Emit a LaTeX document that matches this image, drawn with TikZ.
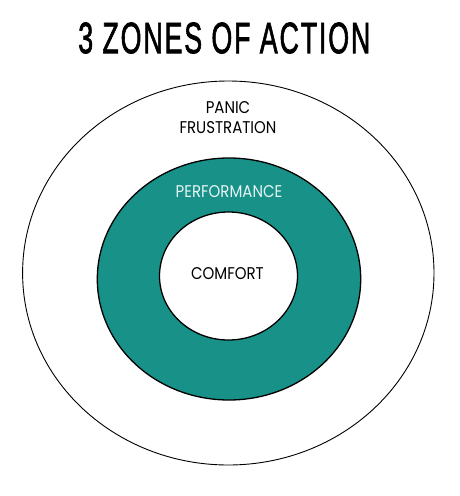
\documentclass[tikz,border=0pt]{standalone}
\usepackage{fontspec}
\setmainfont{Poppins}
\newfontfamily\zonefont[FakeStretch=0.88]{Poppins}
\newfontfamily\titlefont[LetterSpace=7,FakeBold=2]{Liberation Sans}
\usepackage{tikz}
\usetikzlibrary{positioning}
\definecolor{perfteal}{RGB}{24,145,137}
\definecolor{perftext}{RGB}{230,244,242}

\begin{document}
\begin{tikzpicture}[x=1pt,y=-1pt,
		zone/.style={inner sep=0pt, font=\zonefont\fontsize{17}{19}\selectfont}]
	\useasboundingbox (0,0) rectangle (460,496);
	% the three zones
	\draw[line width=0.9pt, fill=white] (228.3,273) ellipse (205.7 and 192);
	\draw[line width=1.3pt, fill=perfteal] (229,279) ellipse (131.7 and 121);
	\draw[line width=1.3pt, fill=white] (228.5,276) ellipse (69 and 64);
	% labels
	\node[inner sep=0pt] (title) at (224.3,38) {\resizebox{292pt}{30.6pt}{\titlefont 3 ZONES OF ACTION}};
	\node[zone] (panic) at (228,108) {PANIC};
	\node[zone] (frustration) at (228,128) {FRUSTRATION};
	\node[zone, text=perftext] (performance) at (229,191.7) {PERFORMANCE};
	\node[zone] (comfort) at (227.5,273.7) {COMFORT};
\end{tikzpicture}
\end{document}
